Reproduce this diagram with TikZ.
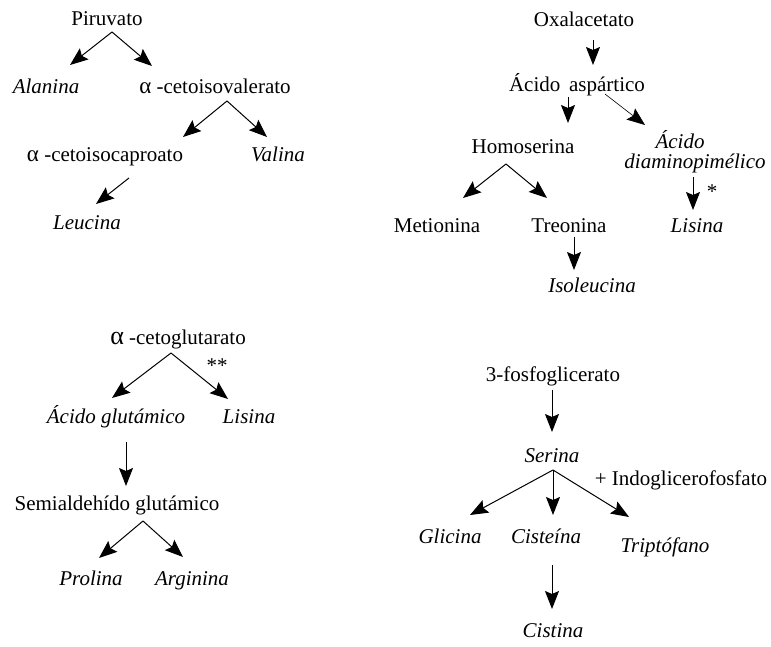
\documentclass[tikz,border=0pt]{standalone}
\usepackage{fontspec}
\setmainfont{Liberation Serif}
\usepackage{tikz}
\usetikzlibrary{calc,arrows.meta}

\newcommand{\labsize}{\fontsize{21}{25}\selectfont}
\tikzset{
	lbl/.style={anchor=base,inner sep=0pt,font=\labsize},
	amino/.style={lbl,font=\labsize\itshape},
	arr/.style={-{Stealth[length=18pt,width=14pt,inset=3pt]},line width=1pt}
}

\begin{document}
\begin{tikzpicture}[x=1pt,y=1pt]
		\useasboundingbox (0,0) rectangle (771,646);
		\node[lbl] (piru) at (107,620) {Piruvato};
		\node[amino] (alan) at (46,552) {Alanina};
		\node[lbl] (acet) at (215,552) {{\fontsize{23}{25}\selectfont α} -cetoisovalerato};
		\node[lbl] (acap) at (105,484) {{\fontsize{23}{25}\selectfont α} -cetoisocaproato};
		\node[amino] (vali) at (278,484) {Valina};
		\node[amino] (leuc) at (87,416) {Leucina};
		\draw[arr] ($(piru.base)+(5,-6)$) -- ($(alan.base)+(24,29)$);
		\draw[arr] ($(piru.base)+(5,-6)$) -- ($(acet.base)+(-63,28)$);
		\draw[arr] ($(acet.base)+(12,-7)$) -- ($(acap.base)+(78,25)$);
		\draw[arr] ($(acet.base)+(12,-7)$) -- ($(vali.base)+(-11,25)$);
		\draw[arr] ($(acap.base)+(24,-16)$) -- ($(leuc.base)+(9,26)$);
		\node[lbl] (oxal) at (584,619) {Oxalacetato};
		\node[lbl] (aspa) at (577,554) {Ácido\, aspártico};
		\node[lbl] (homo) at (523,492) {Homoserina};
		\node[amino] (acid) at (680,497) {Ácido};
		\node[amino] (diam) at (695,477) {diaminopimélico};
		\node[lbl] (meti) at (437,413) {Metionina};
		\node[lbl] (treo) at (569,413) {Treonina};
		\node[amino] (lis1) at (697,413) {Lisina};
		\node[amino] (isol) at (592,353) {Isoleucina};
		\node[lbl] (st1) at (712,447) {*};
		\draw[arr] ($(oxal.base)+(9,-13)$) -- ($(aspa.base)+(16,27)$);
		\draw[arr] ($(aspa.base)+(-9,-5)$) -- ($(homo.base)+(45,31)$);
		\draw[arr,line width=0.6pt] ($(aspa.base)+(28,-2)$) -- ($(acid.base)+(-35,24)$);
		\draw[arr] ($(homo.base)+(-17,-10)$) -- ($(meti.base)+(26,35)$);
		\draw[arr] ($(homo.base)+(-17,-10)$) -- ($(treo.base)+(-22,35)$);
		\draw[arr] ($(diam.base)+(-2,-8)$) -- ($(lis1.base)+(-4,23)$);
		\draw[arr] ($(treo.base)+(5,-4)$) -- ($(isol.base)+(-18,23)$);
		\node[lbl] (cglu) at (178,301) {{\fontsize{26}{25}\selectfont α} -cetoglutarato};
		\node[amino] (aglu) at (116,223) {Ácido glutámico};
		\node[amino] (lis2) at (249,223) {Lisina};
		\node[lbl] (semi) at (117,136) {Semialdehído glutámico};
		\node[amino] (prol) at (91,61) {Prolina};
		\node[amino] (argi) at (192,61) {Arginina};
		\node[lbl] (st2) at (217,273) {**};
		\draw[arr] ($(cglu.base)+(-7,-8)$) -- ($(aglu.base)+(-4,25)$);
		\draw[arr] ($(cglu.base)+(-7,-8)$) -- ($(lis2.base)+(-21,24)$);
		\draw[arr] ($(aglu.base)+(10,-19)$) -- ($(semi.base)+(9,24)$);
		\draw[arr] ($(semi.base)+(26,-11)$) -- ($(prol.base)+(8,27)$);
		\draw[arr] ($(semi.base)+(26,-11)$) -- ($(argi.base)+(-9,28)$);
		\node[lbl] (fosf) at (553,264) {3-fosfoglicerato};
		\node[amino] (seri) at (552,184) {Serina};
		\node[lbl] (indo) at (681,161) {+ Indoglicerofosfato};
		\node[amino] (glic) at (450,103) {Glicina};
		\node[amino] (cist) at (546,103) {Cisteína};
		\node[amino] (trip) at (665,94) {Triptófano};
		\node[amino] (cisn) at (553,9) {Cistina};
		\draw[arr] ($(fosf.base)+(-1,-8)$) -- ($(seri.base)+(0,30)$);
		\draw[arr] ($(seri.base)+(1,-8)$) -- ($(glic.base)+(20,28)$);
		\draw[arr] ($(seri.base)+(1,-8)$) -- ($(cist.base)+(7,28)$);
		\draw[arr] ($(seri.base)+(1,-8)$) -- ($(trip.base)+(-36,35)$);
		\draw[arr] ($(cist.base)+(6,-22)$) -- ($(cisn.base)+(-1,28)$);
	\end{tikzpicture}
\end{document}
